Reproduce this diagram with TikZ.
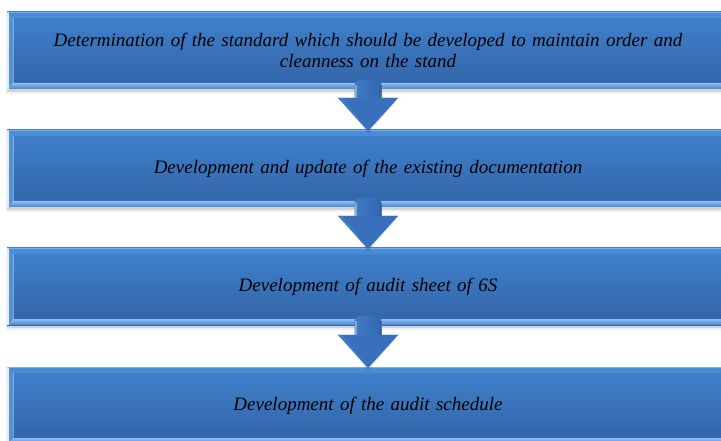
\documentclass[tikz,border=0pt]{standalone}
\usepackage{fontspec}
\setmainfont{Liberation Serif}
\usetikzlibrary{calc}
\pgfdeclarelayer{background}
\pgfsetlayers{background,main}
\definecolor{boxtop}{RGB}{64,130,206}
\definecolor{boxbot}{RGB}{50,99,166}
\definecolor{bevtop}{RGB}{74,140,216}
\definecolor{bevleft}{RGB}{82,146,218}
\definecolor{bevlight}{RGB}{140,190,240}
\definecolor{bevdark}{RGB}{72,132,204}
\definecolor{arrL}{RGB}{78,138,208}
\definecolor{arrM}{RGB}{56,112,188}
\definecolor{arrR}{RGB}{44,94,164}
\begin{document}
\begin{tikzpicture}[x=1pt,y=-1pt,
  stepbox/.style={minimum width=722pt, minimum height=77pt, inner sep=0pt,
    top color=boxtop, bottom color=boxbot, draw=none, align=center,
    text width=700pt, font=\fontsize{19}{21}\selectfont\itshape,
    path picture={
      \coordinate (nw) at (path picture bounding box.north west);
      \coordinate (ne) at (path picture bounding box.north east);
      \coordinate (sw) at (path picture bounding box.south west);
      \coordinate (se) at (path picture bounding box.south east);
      \fill[bevtop] (nw) -- (ne) -- ($(ne)+(-6,6)$) -- ($(nw)+(6,6)$) -- cycle;
      \fill[bevleft] (nw) -- ($(nw)+(6,6)$) -- ($(sw)+(6,-6)$) -- (sw) -- cycle;
      \shade[top color=bevlight, bottom color=bevdark] (sw) -- ($(sw)+(6,-6)$) -- ($(se)+(-6,-6)$) -- (se) -- cycle;
      \fill[white, opacity=.85] (nw) rectangle ($(sw)+(1.6,0)$);
      \fill[bevlight, opacity=.7] (nw) rectangle ($(ne)+(0,1.2)$);
      \draw[white, opacity=.35, line width=.6pt] ($(nw)+(6,6)$) -- ($(sw)+(6,-6)$);
    }},
  shadowc/.style={fill=black}
]
\useasboundingbox (0,0) rectangle (721,441);
\clip (0,0) rectangle (721,441);

\node[stepbox] (b1) at (368,50.5) {Determination of the standard which should be developed to maintain order and\\cleanness on the stand};
\node[stepbox] (b2) at (368,168.5) {Development and update of the existing documentation};
\node[stepbox] (b3) at (368,286.5) {Development of audit sheet of 6S};
\node[stepbox] (b4) at (368,405.5) {Development of the audit schedule};

\begin{pgfonlayer}{background}
\foreach \b in {b1,b2,b3,b4}{
  \fill[shadowc, opacity=.06] ($(\b.north west)+(-1,2)$) rectangle ($(\b.south east)+(0,5)$);
  \fill[shadowc, opacity=.12] ($(\b.south west)+(0,0)$) rectangle ($(\b.south east)+(0,3)$);
}
\end{pgfonlayer}

\foreach \a/\b in {b1/b2,b2/b3,b3/b4}{
  \coordinate (s) at ($(\a.south)+(0,-9)$);
  \coordinate (h) at ($(\b.north)+(0,-32)$);
  \coordinate (t) at ($(\b.north)+(0,1)$);
  % soft shadow of the arrow tip
  \fill[black, opacity=.12] ($(h)+(-26,4)$) -- ($(t)+(0,2.5)$) -- ($(h)+(28,4)$) -- cycle;
  \shade[left color=arrL, right color=arrR, middle color=arrM]
    ($(h)+(-13.5,0)$) -- ($(s)+(-13.5,5)$)
    .. controls ($(s)+(-13.5,0)$) and ($(s)+(-7,-1)$) .. ($(s)+(0,-1)$)
    .. controls ($(s)+(7,-1)$) and ($(s)+(13.5,0)$) .. ($(s)+(13.5,5)$)
    -- ($(h)+(13.5,0)$) -- ($(h)+(30,0)$) -- (t) -- ($(h)+(-30,0)$) -- cycle;
  \fill[arrM] ($(h)+(-30,0)$) -- (t) -- ($(h)+(30,0)$) -- ($(h)+(13.5,0)$) -- ($(h)+(-13.5,0)$) -- cycle;
  \fill[arrL, opacity=.5] ($(h)+(-30,0)$) -- ($(t)+(0,-1)$) -- ($(h)+(-26,0)$) -- cycle;
  \fill[white, opacity=.35] ($(s)+(-13,5)$) rectangle ($(h)+(-11,0)$);
  \fill[arrR, opacity=.5] ($(s)+(10.5,5)$) rectangle ($(h)+(13.5,0)$);
}
\end{tikzpicture}
\end{document}
